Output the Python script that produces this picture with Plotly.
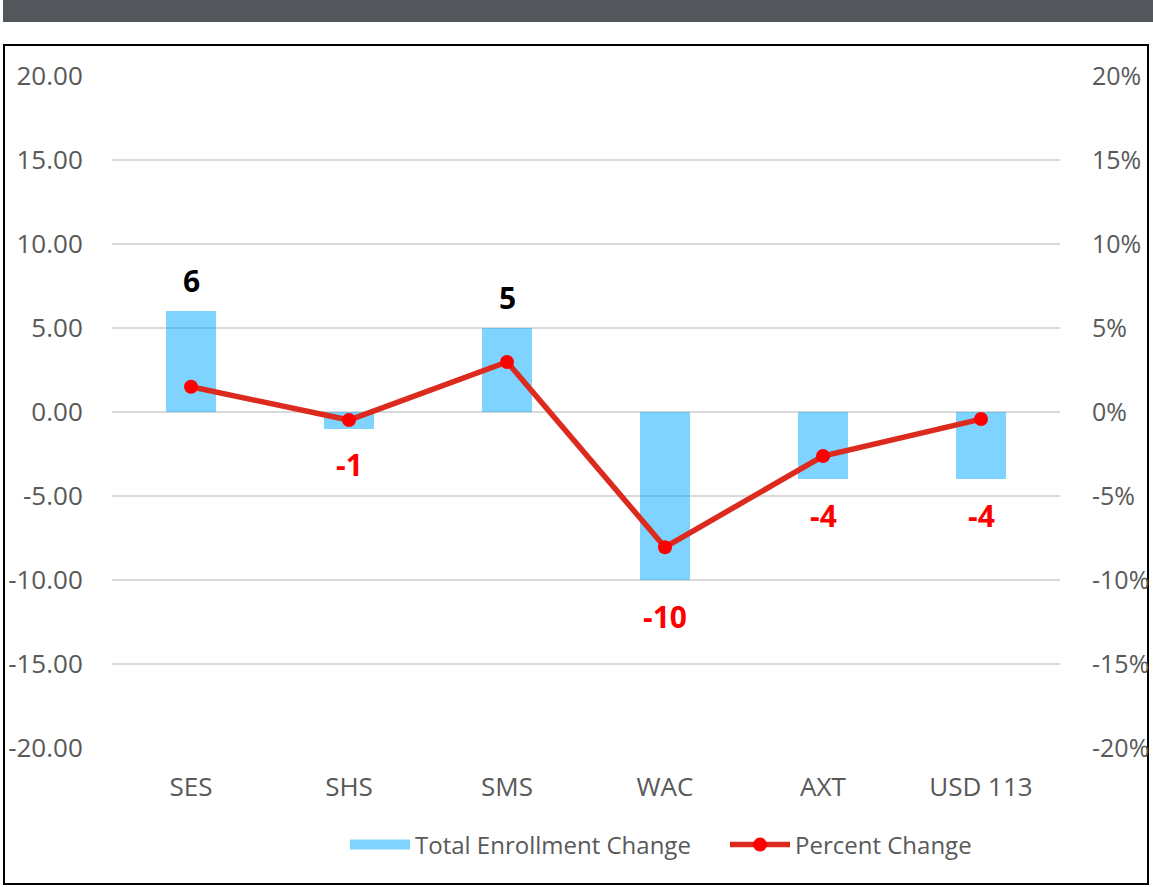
import plotly.graph_objects as go

categories = ["SES", "SHS", "SMS", "WAC", "AXT", "USD 113"]
enrollment_change = [6, -1, 5, -10, -4, -4]
percent_change = [1.5, -0.48, 2.98, -8.05, -2.62, -0.42]
left_ticks = [-20, -15, -10, -5, 0, 5, 10, 15, 20]
left_tick_labels = ["-20.00", "-15.00", "-10.00", "-5.00", "0.00", "5.00", "10.00", "15.00", "20.00"]
right_ticks = [-20, -15, -10, -5, 0, 5, 10, 15, 20]
right_tick_labels = ["-20%", "-15%", "-10%", "-5%", "0%", "5%", "10%", "15%", "20%"]

W, H = 1153, 887
L, R, T, B = 112, 1060, 76, 748
FONT = "Open Sans"
TICK_COLOR = "#595959"
BAR_COLOR = "rgba(0,169,255,0.5)"


def px_x(p):
    return (p - L) / (R - L)


def px_y(p):
    return (B - p) / (B - T)


fig = go.Figure()
fig.add_trace(go.Bar(
    x=categories, y=enrollment_change, name="Total Enrollment Change",
    marker=dict(color=BAR_COLOR, line=dict(width=0)),
    width=0.32, yaxis="y", showlegend=False,
))
# legend entry for the bars (wide swatch like the original)
fig.add_trace(go.Scatter(
    x=[None], y=[None], name="Total Enrollment Change", mode="lines",
    line=dict(color="#80D4FF", width=15), showlegend=True, hoverinfo="skip",
))
fig.add_trace(go.Scatter(
    x=categories, y=percent_change, name="Percent Change", yaxis="y2",
    mode="lines+markers",
    line=dict(color="#DC2A1E", width=5.5),
    marker=dict(color="#FF0000", size=14),
))

for c, v in zip(categories, enrollment_change):
    fig.add_annotation(
        x=c, y=v, xref="x", yref="y", text=f"<b>{v}</b>", showarrow=False,
        yshift=31 if v > 0 else -36,
        font=dict(family=FONT, size=30, color="#000000" if v > 0 else "#FF0000"),
    )

fig.add_shape(type="rect", xref="paper", yref="paper",
              x0=px_x(3), x1=px_x(1153), y0=px_y(22), y1=px_y(0),
              fillcolor="#53575C", line=dict(width=0), layer="below")
fig.add_shape(type="rect", xref="paper", yref="paper",
              x0=px_x(4), x1=px_x(1148), y0=px_y(884), y1=px_y(45),
              fillcolor="rgba(0,0,0,0)", line=dict(color="#000000", width=2), layer="below")

fig.update_layout(
    width=W, height=H, autosize=False,
    margin=dict(l=L, r=W - R, t=T, b=H - B, pad=0, autoexpand=False),
    paper_bgcolor="white", plot_bgcolor="white",
    font=dict(family=FONT, size=24, color=TICK_COLOR),
    showlegend=True,
    legend=dict(orientation="h", x=px_x(345), xanchor="left", y=px_y(845), yanchor="middle",
                font=dict(family=FONT, size=24, color=TICK_COLOR), itemwidth=60,
                entrywidth=305, entrywidthmode="pixels",
                traceorder="normal"),
    xaxis=dict(showgrid=False, zeroline=False, showline=False,
               ticks="outside", ticklen=16, tickcolor="rgba(0,0,0,0)",
               tickfont=dict(family=FONT, size=26, color=TICK_COLOR)),
    yaxis=dict(range=[-20, 20], tickmode="array", tickvals=left_ticks, ticktext=left_tick_labels,
               showgrid=True, gridcolor="#D9D9D9", gridwidth=2,
               zeroline=False, showline=False,
               ticks="outside", ticklen=23, tickcolor="rgba(0,0,0,0)",
               tickfont=dict(family=FONT, size=26, color=TICK_COLOR)),
    yaxis2=dict(range=[-20, 20], tickmode="array", tickvals=right_ticks, ticktext=right_tick_labels,
                overlaying="y", side="right", showgrid=False, zeroline=False,
                showline=False, ticks="outside", ticklen=26, tickcolor="rgba(0,0,0,0)",
                tickfont=dict(family=FONT, size=25, color=TICK_COLOR)),
    bargap=0,
)

fig.write_html(
    "out.html",
    config={"displayModeBar": False, "responsive": False},
    post_script=(
        "document.body.style.margin='0';document.body.style.overflow='hidden';"
        "Plotly.relayout('{plot_id}', {width: 1153, height: 887});"
    ),
)
